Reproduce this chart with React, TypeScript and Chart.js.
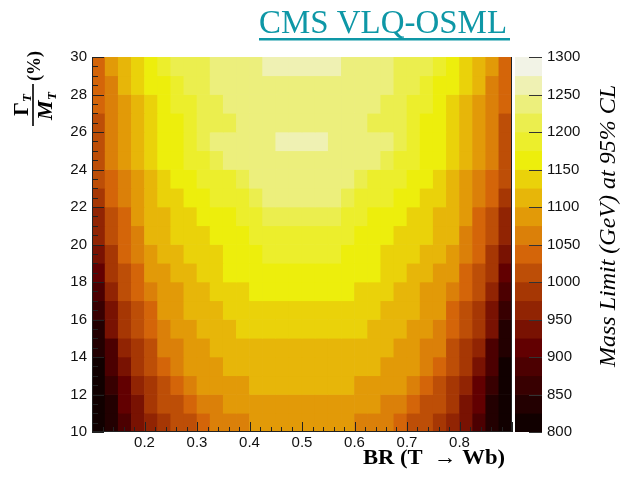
import React, { useEffect, useRef } from "react";
import { Chart, registerables } from "chart.js";

Chart.register(...registerables);

// BR(T -> Wb) bin centres, bin width 0.025
const brCenters = [
  0.1125, 0.1375, 0.1625, 0.1875, 0.2125, 0.2375, 0.2625, 0.2875,
  0.3125, 0.3375, 0.3625, 0.3875, 0.4125, 0.4375, 0.4625, 0.4875,
  0.5125, 0.5375, 0.5625, 0.5875, 0.6125, 0.6375, 0.6625, 0.6875,
  0.7125, 0.7375, 0.7625, 0.7875, 0.8125, 0.8375, 0.8625, 0.8875,
];

// Lower edge of each Γ/M row in %, top row first (each row is 1% tall)
const widthLow = [29, 28, 27, 26, 25, 24, 23, 22, 21, 20, 19, 18, 17, 16, 15, 14, 13, 12, 11, 10];

// Observed mass limit (GeV) per row, left to right in BR
const massLimitRows = [
  [1035, 1085, 1110, 1135, 1160, 1185, 1210, 1210, 1210, 1235, 1235, 1235, 1235, 1260, 1260, 1260, 1260, 1260, 1260, 1235, 1235, 1235, 1235, 1210, 1210, 1210, 1185, 1160, 1135, 1110, 1085, 1035],
  [1035, 1060, 1110, 1135, 1160, 1160, 1185, 1210, 1210, 1235, 1235, 1235, 1235, 1235, 1235, 1235, 1235, 1235, 1235, 1235, 1235, 1235, 1235, 1210, 1210, 1185, 1160, 1160, 1135, 1110, 1060, 1035],
  [1035, 1060, 1085, 1110, 1135, 1160, 1185, 1185, 1210, 1210, 1235, 1235, 1235, 1235, 1235, 1235, 1235, 1235, 1235, 1235, 1235, 1235, 1210, 1210, 1185, 1185, 1160, 1135, 1110, 1085, 1060, 1035],
  [1010, 1060, 1085, 1110, 1135, 1160, 1160, 1185, 1210, 1210, 1210, 1235, 1235, 1235, 1235, 1235, 1235, 1235, 1235, 1235, 1235, 1210, 1210, 1210, 1185, 1160, 1160, 1135, 1110, 1085, 1060, 1010],
  [1010, 1060, 1085, 1110, 1135, 1160, 1160, 1185, 1210, 1235, 1235, 1235, 1235, 1235, 1260, 1260, 1260, 1260, 1235, 1235, 1235, 1235, 1235, 1210, 1185, 1160, 1160, 1135, 1110, 1085, 1060, 1010],
  [1010, 1060, 1085, 1110, 1135, 1160, 1160, 1185, 1185, 1210, 1235, 1235, 1235, 1235, 1235, 1235, 1235, 1235, 1235, 1235, 1235, 1235, 1210, 1185, 1185, 1160, 1160, 1135, 1110, 1085, 1060, 1010],
  [1010, 1035, 1060, 1085, 1110, 1135, 1160, 1160, 1185, 1185, 1185, 1210, 1235, 1235, 1235, 1235, 1235, 1235, 1235, 1235, 1210, 1185, 1185, 1185, 1160, 1160, 1135, 1110, 1085, 1060, 1035, 1010],
  [985, 1035, 1060, 1085, 1110, 1135, 1135, 1160, 1160, 1185, 1185, 1185, 1210, 1235, 1235, 1235, 1235, 1235, 1235, 1210, 1185, 1185, 1185, 1160, 1160, 1135, 1135, 1110, 1085, 1060, 1035, 985],
  [960, 1010, 1035, 1085, 1110, 1110, 1135, 1135, 1160, 1160, 1160, 1185, 1185, 1210, 1210, 1210, 1210, 1210, 1210, 1185, 1185, 1160, 1160, 1160, 1135, 1135, 1110, 1110, 1085, 1035, 1010, 960],
  [960, 1010, 1035, 1060, 1110, 1110, 1135, 1135, 1135, 1160, 1160, 1160, 1185, 1185, 1185, 1185, 1185, 1185, 1185, 1185, 1160, 1160, 1160, 1135, 1135, 1135, 1110, 1110, 1060, 1035, 1010, 960],
  [935, 985, 1035, 1060, 1085, 1110, 1110, 1135, 1135, 1135, 1160, 1160, 1160, 1185, 1185, 1185, 1185, 1185, 1185, 1160, 1160, 1160, 1135, 1135, 1135, 1110, 1110, 1085, 1060, 1035, 985, 935],
  [910, 985, 1010, 1035, 1085, 1085, 1110, 1110, 1135, 1135, 1160, 1160, 1160, 1160, 1160, 1160, 1160, 1160, 1160, 1160, 1160, 1160, 1135, 1135, 1110, 1110, 1085, 1085, 1035, 1010, 985, 910],
  [885, 960, 1010, 1035, 1060, 1085, 1085, 1110, 1110, 1135, 1135, 1135, 1160, 1160, 1160, 1160, 1160, 1160, 1160, 1160, 1135, 1135, 1135, 1110, 1110, 1085, 1085, 1060, 1035, 1010, 960, 885],
  [860, 935, 985, 1010, 1035, 1085, 1085, 1110, 1110, 1110, 1135, 1135, 1135, 1135, 1135, 1135, 1135, 1135, 1135, 1135, 1135, 1135, 1110, 1110, 1110, 1085, 1085, 1035, 1010, 985, 935, 860],
  [835, 935, 985, 1010, 1035, 1060, 1085, 1085, 1110, 1110, 1110, 1135, 1135, 1135, 1135, 1135, 1135, 1135, 1135, 1135, 1135, 1110, 1110, 1110, 1085, 1085, 1060, 1035, 1010, 985, 935, 835],
  [835, 885, 960, 985, 1010, 1060, 1060, 1085, 1085, 1110, 1110, 1110, 1110, 1110, 1110, 1110, 1110, 1110, 1110, 1110, 1110, 1110, 1110, 1085, 1085, 1060, 1060, 1010, 985, 960, 885, 835],
  [810, 885, 935, 985, 1010, 1035, 1060, 1085, 1085, 1085, 1110, 1110, 1110, 1110, 1110, 1110, 1110, 1110, 1110, 1110, 1110, 1110, 1085, 1085, 1085, 1060, 1035, 1010, 985, 935, 885, 810],
  [810, 860, 910, 960, 985, 1010, 1035, 1060, 1085, 1085, 1085, 1085, 1110, 1110, 1110, 1110, 1110, 1110, 1110, 1110, 1085, 1085, 1085, 1085, 1060, 1035, 1010, 985, 960, 910, 860, 810],
  [810, 835, 910, 935, 985, 1010, 1010, 1035, 1060, 1060, 1085, 1085, 1085, 1085, 1085, 1085, 1085, 1085, 1085, 1085, 1085, 1085, 1060, 1060, 1035, 1010, 1010, 985, 935, 910, 835, 810],
  [810, 835, 885, 935, 960, 985, 1010, 1010, 1035, 1060, 1060, 1060, 1085, 1085, 1085, 1085, 1085, 1085, 1085, 1085, 1060, 1060, 1060, 1035, 1010, 1010, 985, 960, 935, 885, 835, 810],
];

const xTickValues = [0.2, 0.3, 0.4, 0.5, 0.6, 0.7, 0.8];
const yTickValues = [10, 12, 14, 16, 18, 20, 22, 24, 26, 28, 30];
const paletteTicks = [800, 850, 900, 950, 1000, 1050, 1100, 1150, 1200, 1250, 1300];
// Lower edge of each contour band (GeV)
const contourLevels = [800, 825, 850, 875, 900, 925, 950, 975, 1000, 1025, 1050, 1075, 1100, 1125, 1150, 1175, 1200, 1225, 1250, 1275];
const contourStep = 25;

// Dark body radiator gradient
const gradStops = [0, 0.125, 0.25, 0.375, 0.5, 0.625, 0.75, 0.875, 1];
const gradR = [0, 45, 99, 156, 212, 230, 237, 234, 242];
const gradG = [0, 0, 0, 45, 101, 168, 238, 238, 243];
const gradB = [0, 1, 1, 3, 9, 8, 11, 95, 230];

function gradientColor(f: number): string {
  let i = 0;
  while (i < gradStops.length - 2 && f > gradStops[i + 1]) i++;
  const t = (f - gradStops[i]) / (gradStops[i + 1] - gradStops[i]);
  const c = (a: number[]) => Math.round(a[i] + (a[i + 1] - a[i]) * t);
  return `rgb(${c(gradR)},${c(gradG)},${c(gradB)})`;
}

function colourForLimit(v: number): string {
  const n = contourLevels.length;
  let band = Math.floor((v - contourLevels[0]) / contourStep);
  band = Math.max(0, Math.min(n - 1, band));
  const idx = Math.min(254, Math.floor(((band + 0.99) * 255) / n));
  return gradientColor(idx / 254);
}

const SANS = '"Liberation Sans", Arial, sans-serif';
const SERIF = '"Liberation Serif", "Times New Roman", serif';

function fitText(ctx: CanvasRenderingContext2D, text: string, x: number, y: number, width: number) {
  const w = ctx.measureText(text).width;
  ctx.save();
  ctx.translate(x, y);
  ctx.scale(width / w, 1);
  ctx.fillText(text, 0, 0);
  ctx.restore();
}

const heatmapDecor = {
  id: "heatmapDecor",
  afterDraw(chart: any) {
    const ctx: CanvasRenderingContext2D = chart.ctx;
    const { left, right, top, bottom } = chart.chartArea;
    const xs = chart.scales.x;
    const ys = chart.scales.y;
    ctx.save();
    ctx.strokeStyle = "#222";
    ctx.lineWidth = 1;
    // frame
    ctx.beginPath();
    ctx.moveTo(left + 0.5, top);
    ctx.lineTo(left + 0.5, bottom);
    ctx.moveTo(left, bottom - 0.5);
    ctx.lineTo(right, bottom - 0.5);
    ctx.moveTo(right - 0.5, top);
    ctx.lineTo(right - 0.5, bottom);
    ctx.stroke();
    // x ticks (major every 0.1, minor every 0.02)
    ctx.beginPath();
    for (let i = 0; i <= 40; i++) {
      const v = 0.1 + i * 0.02;
      const px = Math.round(xs.getPixelForValue(v)) + 0.5;
      const len = i % 5 === 0 ? 10 : 5;
      ctx.moveTo(px, bottom);
      ctx.lineTo(px, bottom - len);
    }
    // y ticks (major every 2, minor every 0.5)
    for (let i = 0; i <= 40; i++) {
      const v = 10 + i * 0.5;
      const py = Math.round(ys.getPixelForValue(v)) + 0.5;
      const len = i % 4 === 0 ? 12 : 6;
      ctx.moveTo(left, py);
      ctx.lineTo(left + len, py);
    }
    ctx.stroke();

    // header
    ctx.fillStyle = "#0E97A6";
    ctx.font = `34px ${SERIF}`;
    ctx.textBaseline = "alphabetic";
    ctx.textAlign = "left";
    fitText(ctx, "CMS VLQ-OSML", 259, 33, 248);
    ctx.fillRect(259, 38, 251, 2.5);

    // x-axis title
    ctx.fillStyle = "#000";
    ctx.font = `bold 22px ${SERIF}`;
    fitText(ctx, "BR (T  \u2192 Wb)", 363, 464, 142);

    // y-axis title: Γ_T / M_T (%)
    ctx.translate(33, 126);
    ctx.rotate(-Math.PI / 2);
    ctx.font = `bold 22px ${SERIF}`;
    ctx.fillText("\u0393", 10, -5);
    ctx.font = `bold italic 13px ${SERIF}`;
    ctx.fillText("T", 24, -2);
    ctx.font = `bold italic 22px ${SERIF}`;
    ctx.fillText("M", 6, 19);
    ctx.font = `bold italic 13px ${SERIF}`;
    ctx.fillText("T", 26, 23);
    ctx.fillRect(0, -0.8, 42, 1.6);
    ctx.font = `bold 18px ${SERIF}`;
    ctx.fillText("(%)", 45, 7);
    ctx.restore();
  },
};

const paletteDecor = {
  id: "paletteDecor",
  afterDraw(chart: any) {
    const ctx: CanvasRenderingContext2D = chart.ctx;
    const { right } = chart.chartArea;
    const ys = chart.scales.y;
    ctx.save();
    ctx.strokeStyle = "#333";
    ctx.lineWidth = 1;
    ctx.beginPath();
    for (const v of paletteTicks) {
      const py = Math.round(ys.getPixelForValue(v)) + 0.5;
      ctx.moveTo(right - 13, py);
      ctx.lineTo(right, py);
    }
    ctx.stroke();
    ctx.fillStyle = "#000";
    ctx.font = `italic 24px ${SERIF}`;
    ctx.translate(115, 226);
    ctx.rotate(-Math.PI / 2);
    ctx.textAlign = "center";
    ctx.fillText("Mass Limit (GeV) at 95% CL", 0, 0);
    ctx.restore();
  },
};

export default function App() {
  const mainRef = useRef<HTMLCanvasElement>(null);
  const barRef = useRef<HTMLCanvasElement>(null);

  useEffect(() => {
    const datasets = widthLow.map((w, r) => ({
      label: `${w}-${w + 1}%`,
      data: brCenters.map((x) => ({ x, y: [w, w + 1] })),
      backgroundColor: massLimitRows[r].map(colourForLimit),
      borderWidth: 0,
      grouped: false,
      barPercentage: 1,
      categoryPercentage: 1,
    }));

    const tickFont = { family: SANS, size: 15 };

    const main = new Chart(mainRef.current as HTMLCanvasElement, {
      type: "bar",
      data: { datasets } as any,
      options: {
        animation: false,
        responsive: false,
        devicePixelRatio: 1,
        layout: { padding: { top: 57, right: 113, left: 0, bottom: 0 } },
        plugins: { legend: { display: false }, tooltip: { enabled: false } },
        scales: {
          x: {
            type: "linear",
            min: 0.1,
            max: 0.9,
            offset: false,
            afterBuildTicks: (s: any) => {
              s.ticks = xTickValues.map((value) => ({ value }));
            },
            afterFit: (s: any) => {
              s.height = 50;
            },
            grid: { display: false, drawTicks: false },
            border: { display: false },
            ticks: {
              autoSkip: false,
              maxRotation: 0,
              padding: 2,
              color: "#111",
              font: tickFont,
              callback: (v: any) => Number(v).toFixed(1),
            },
          },
          y: {
            type: "linear",
            min: 10,
            max: 30,
            afterBuildTicks: (s: any) => {
              s.ticks = yTickValues.map((value) => ({ value }));
            },
            afterFit: (s: any) => {
              s.width = 92;
            },
            grid: { display: false, drawTicks: false },
            border: { display: false },
            ticks: {
              autoSkip: false,
              padding: 5,
              color: "#111",
              font: tickFont,
              callback: (v: any) => String(v),
            },
          },
        },
      } as any,
      plugins: [heatmapDecor],
    });

    const bar = new Chart(barRef.current as HTMLCanvasElement, {
      type: "bar",
      data: {
        datasets: [
          {
            label: "Mass limit",
            data: contourLevels.map((lo) => ({ x: 0.5, y: [lo, lo + contourStep] })),
            backgroundColor: contourLevels.map((lo) => colourForLimit(lo + contourStep / 2)),
            borderWidth: 0,
            grouped: false,
            barPercentage: 1,
            categoryPercentage: 1,
          },
        ],
      } as any,
      options: {
        animation: false,
        responsive: false,
        devicePixelRatio: 1,
        layout: { padding: { top: 57, right: 0, left: 15, bottom: 50 } },
        plugins: { legend: { display: false }, tooltip: { enabled: false } },
        scales: {
          x: {
            type: "linear",
            min: 0,
            max: 1,
            offset: false,
            display: false,
            ticks: { stepSize: 1 },
            afterBuildTicks: (s: any) => {
              s.ticks = [{ value: 0 }, { value: 1 }];
            },
          },
          y: {
            type: "linear",
            position: "right",
            min: 800,
            max: 1300,
            afterBuildTicks: (s: any) => {
              s.ticks = paletteTicks.map((value) => ({ value }));
            },
            afterFit: (s: any) => {
              s.width = 83;
            },
            grid: { display: false, drawTicks: false },
            border: { display: false },
            ticks: {
              autoSkip: false,
              padding: 5,
              color: "#111",
              font: tickFont,
              callback: (v: any) => String(v),
            },
          },
        },
      } as any,
      plugins: [paletteDecor],
    });

    return () => {
      main.destroy();
      bar.destroy();
    };
  }, []);

  return (
    <div style={{ position: "absolute", left: 0, top: 0, width: 625, height: 482, background: "#fff" }}>
      <canvas ref={mainRef} width={625} height={482} style={{ position: "absolute", left: 0, top: 0 }} />
      <canvas ref={barRef} width={125} height={482} style={{ position: "absolute", left: 500, top: 0 }} />
    </div>
  );
}
